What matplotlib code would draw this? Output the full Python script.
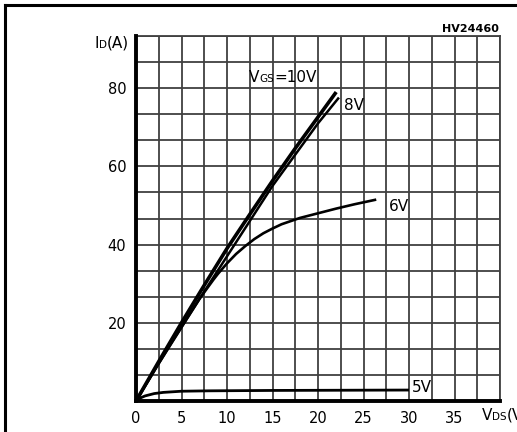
import matplotlib
matplotlib.use("Agg")
import matplotlib.pyplot as plt
import numpy as np
from matplotlib.lines import Line2D

plt.rcParams['font.family'] = ['DejaVu Sans']

# Data (VDS in V, ID in A)
vds_10 = [0, 2.5, 5, 7.5, 10, 12.5, 15, 17.5, 20, 22.0]
id_10 = [0, 10.1, 20.0, 29.6, 39.0, 47.7, 56.3, 64.6, 72.6, 79.0]
vds_8 = [0, 2.5, 5, 7.5, 10, 12.5, 15, 17.5, 20, 22.3]
id_8 = [0, 9.6, 18.8, 28.0, 37.0, 46.0, 55.0, 63.0, 71.0, 77.6]
vds_6 = [0, 2, 4, 6, 7, 8, 8.5, 9, 10, 11, 12, 13, 14, 15, 16, 18, 20, 22, 24, 26.4]
id_6 = [0, 7.7, 15.3, 22.6, 26.2, 29.4, 31.0, 32.5, 35.2, 37.6, 39.6, 41.4, 42.9,
        44.1, 45.2, 46.8, 48.0, 49.2, 50.3, 51.5]
vds_5 = [0, 0.5, 1, 2, 3, 5, 8, 15, 30]
id_5 = [0, 0.8, 1.3, 1.9, 2.2, 2.5, 2.6, 2.7, 2.8]

x_ticks = [0, 5, 10, 15, 20, 25, 30, 35]
y_ticks = [20, 40, 60, 80]
curve_labels = ['8V', '6V', '5V']

W, H = 517, 432
fig = plt.figure(figsize=(W / 100, H / 100), dpi=100)
renderer = fig.canvas.get_renderer()

def fx(px):
    return px / W

def fy(py):
    return 1 - py / H

ax = fig.add_axes([fx(136), fy(401), fx(500) - fx(136), fy(36) - fy(401)])
ax.set_xlim(0, 40)
ax.set_ylim(0, 14 * 20 / 3)

# grid
for x in np.arange(2.5, 40.01, 2.5):
    ax.axvline(x, color='#404040', lw=1.3, zorder=1)
for y in np.arange(20 / 3, 14 * 20 / 3 + 0.01, 20 / 3):
    ax.axhline(y, color='#404040', lw=1.3, zorder=1)

for s in ['top', 'right']:
    ax.spines[s].set_linewidth(1.3)
    ax.spines[s].set_color('#404040')
for s in ['left', 'bottom']:
    ax.spines[s].set_linewidth(2.8)
    ax.spines[s].set_color('black')
    ax.spines[s].set_zorder(5)

ax.set_xticks(x_ticks)
ax.set_xticklabels([str(v) for v in x_ticks])
ax.set_yticks(y_ticks)
ax.set_yticklabels([str(v) for v in y_ticks])
ax.tick_params(length=0, labelsize=10.5)
ax.tick_params(axis='x', pad=7)
ax.tick_params(axis='y', pad=7)

ax.plot(vds_10, id_10, color='black', lw=2.6, zorder=3, solid_capstyle='butt')
ax.plot(vds_8, id_8, color='black', lw=1.8, zorder=3, solid_capstyle='butt')
ax.plot(vds_6, id_6, color='black', lw=1.9, zorder=3, solid_capstyle='butt')
ax.plot(vds_5, id_5, color='black', lw=2.0, zorder=3, solid_capstyle='butt')


def chain(x_px, y_px, parts):
    x = x_px
    for s, size in parts:
        t = fig.text(fx(x), fy(y_px), s, fontsize=size, va='baseline', ha='left')
        bb = t.get_window_extent(renderer)
        x += bb.width


chain(249, 82, [('V', 11), ('GS', 7.5), ('=10V', 11)])
tk = dict(fontsize=11, va='baseline', ha='left')
fig.text(fx(344), fy(110), curve_labels[0], **tk)
fig.text(fx(389), fy(211), curve_labels[1], **tk)
fig.text(fx(412), fy(392), curve_labels[2], **tk)

# axis titles
chain(94, 48, [('I', 11), ('D', 7.5), ('(A)', 11)])
chain(482, 420, [('V', 11), ('DS', 7.5), ('(V)', 11)])

fig.text(fx(499), fy(32), 'HV24460', fontsize=8, fontweight='bold', va='baseline', ha='right')

# outer frame
fig.add_artist(Line2D([fx(5), fx(5)], [fy(5), 0], color='black', lw=2.2, transform=fig.transFigure))
fig.add_artist(Line2D([fx(5), 1], [fy(5), fy(5)], color='black', lw=2.2, transform=fig.transFigure))

fig.savefig('out.png', dpi=100)
